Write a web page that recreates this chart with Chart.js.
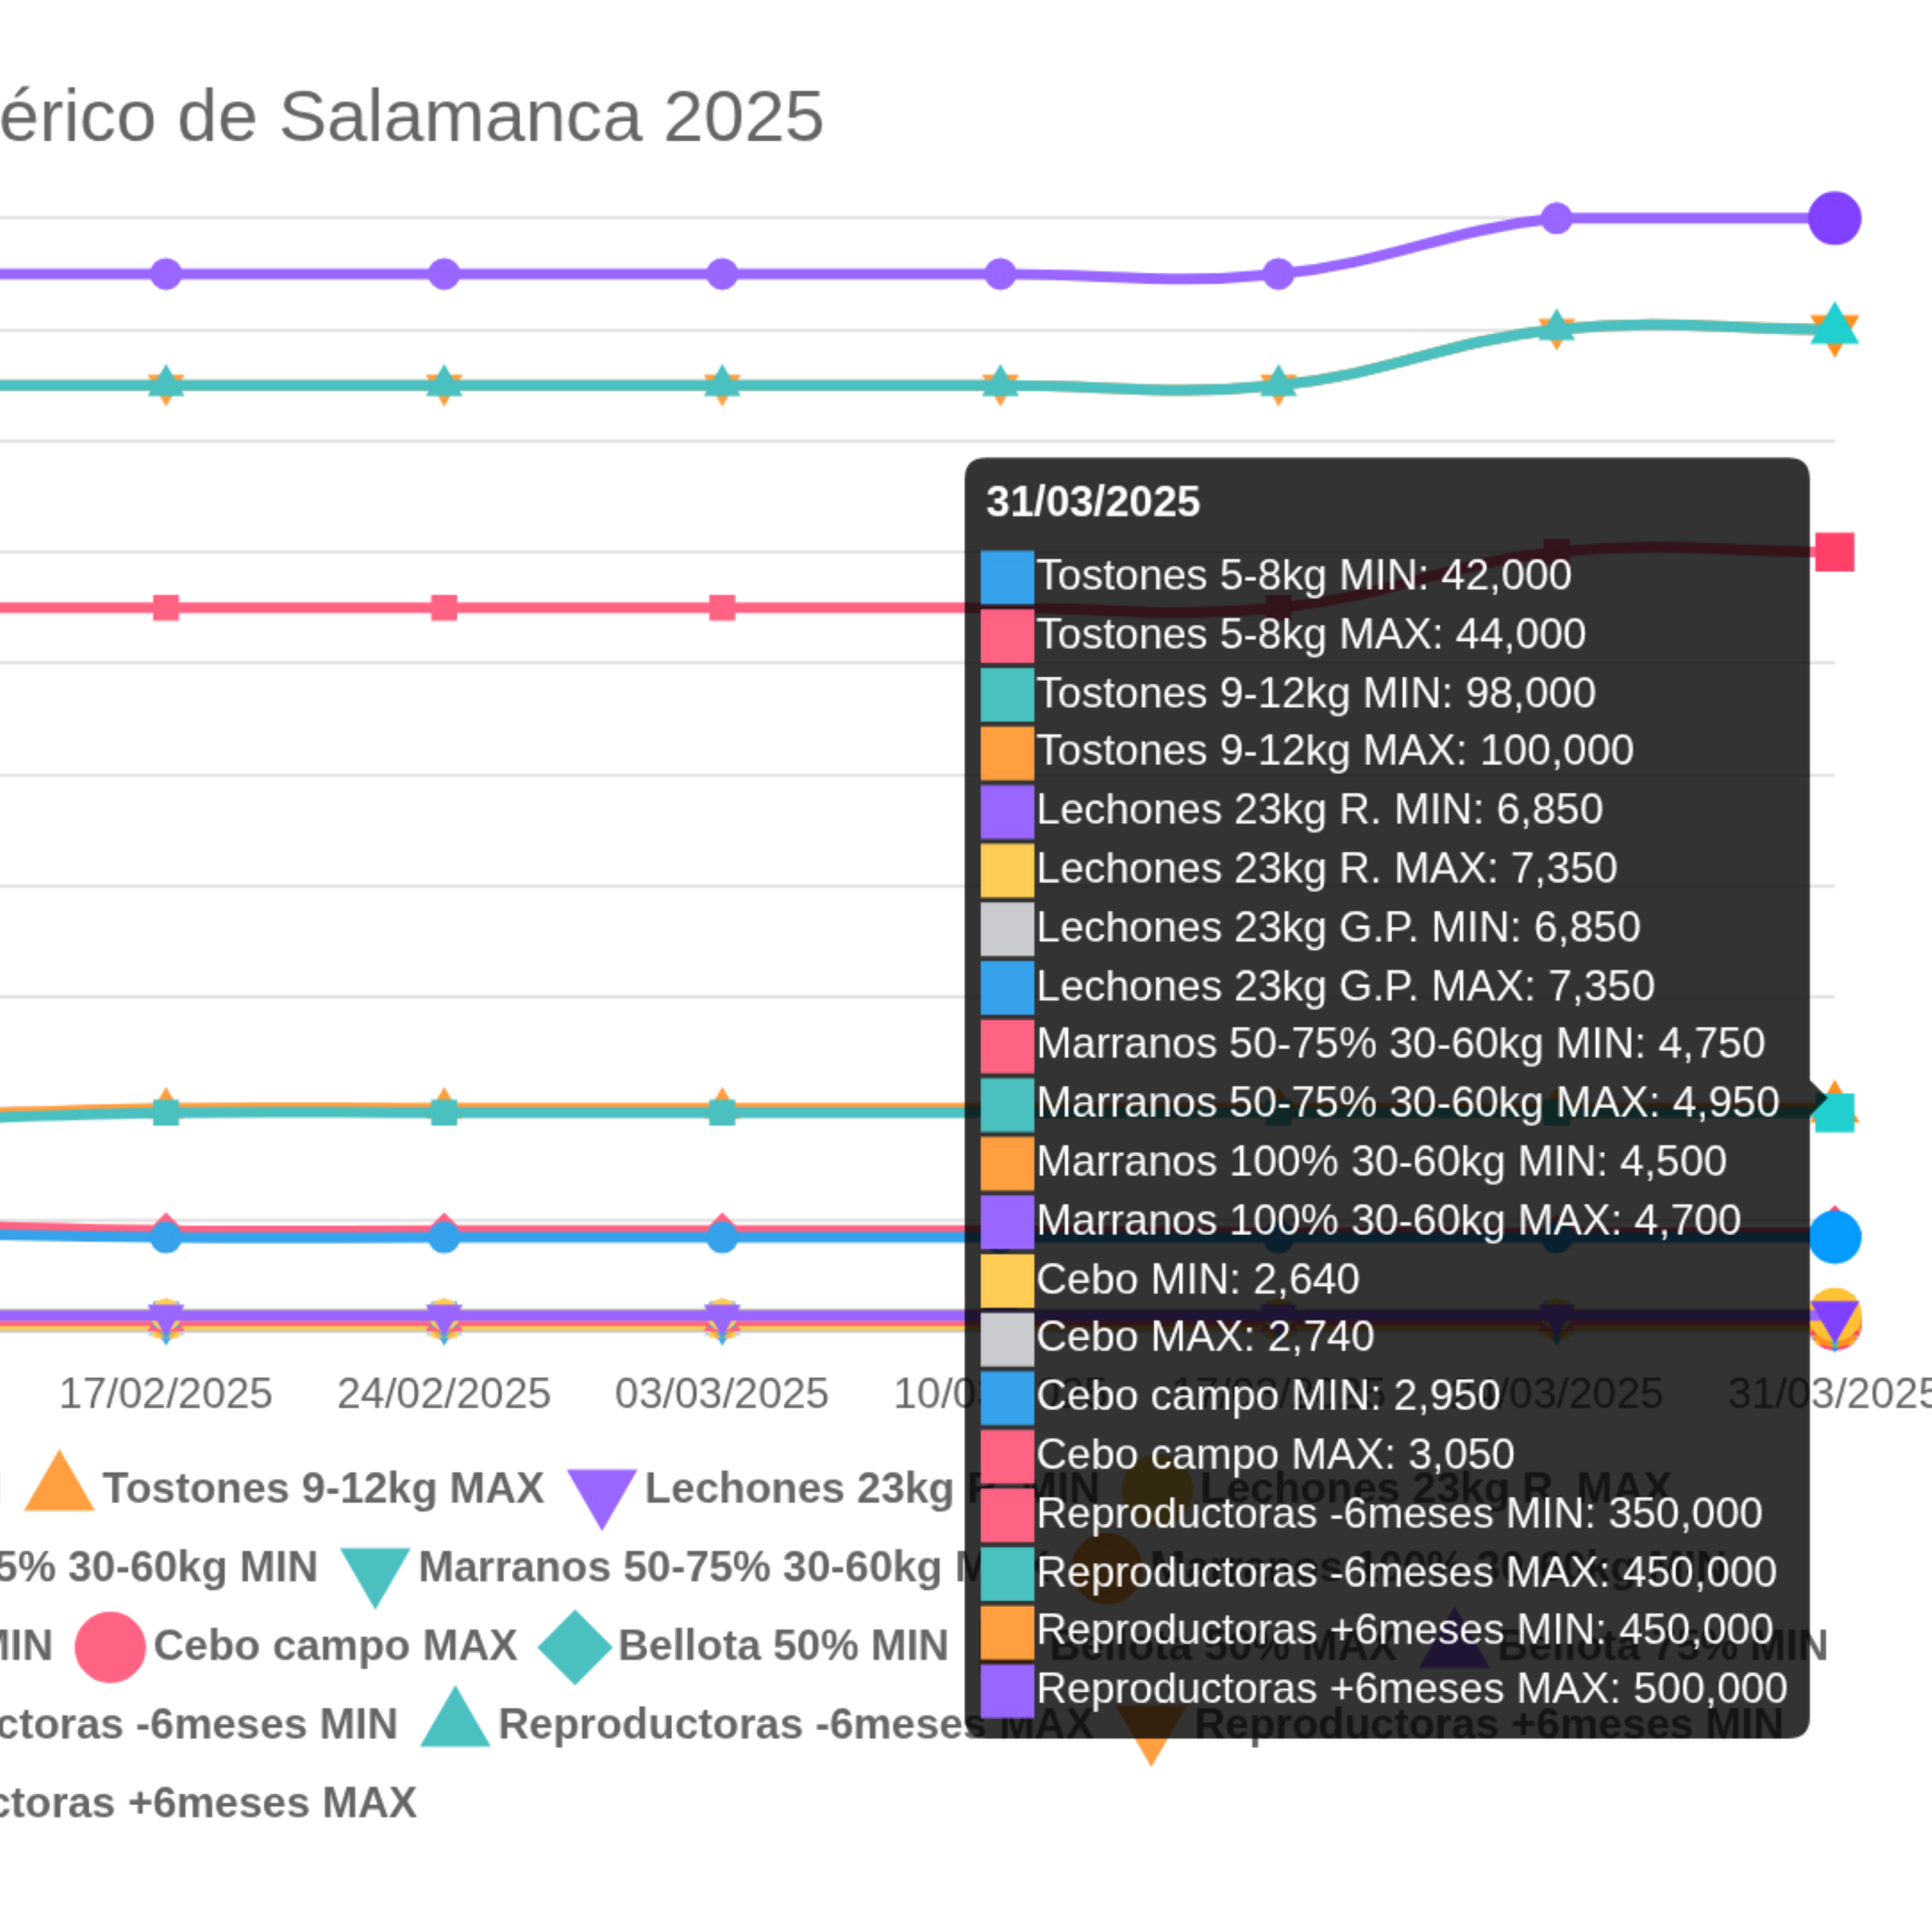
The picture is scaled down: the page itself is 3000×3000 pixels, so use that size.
<!DOCTYPE html>
<html>
<head>
<meta charset="utf-8">
<script src="https://cdn.jsdelivr.net/npm/chart.js"></script>
<style>
  html, body { margin: 0; padding: 0; background: #ffffff; width: 3000px; height: 3000px; overflow: hidden; }
  #wrap { position: absolute; left: -2784.5px; top: 55px; width: 1049px; height: 511px; transform: scale(5.55); transform-origin: 0 0; }
</style>
</head>
<body>
<div id="wrap"><canvas id="c" width="1049" height="511"></canvas></div>
<script>
// ---- categories ----
const labels = ['06/01/2025','13/01/2025','20/01/2025','27/01/2025','03/02/2025','10/02/2025',
                '17/02/2025','24/02/2025','03/03/2025','10/03/2025','17/03/2025','24/03/2025','31/03/2025'];

// ---- series values (one array per series) ----
const tostones58Min   = [null,null,null,null,null, 44000, 42000, 42000, 42000, 42000, 42000, 42000, 42000];
const tostones58Max   = [null,null,null,null,null, 48000, 45000, 45000, 45000, 45000, 44000, 44000, 44000];
const tostones912Min  = [null,null,null,null,null, 94000, 98000, 98000, 98000, 98000, 98000, 98000, 98000];
const tostones912Max  = [null,null,null,null,null, 96000,100000,100000,100000,100000,100000,100000,100000];
const lechonesRMin    = [null,null,null,null,null, 6850, 6850, 6850, 6850, 6850, 6850, 6850, 6850];
const lechonesRMax    = [null,null,null,null,null, 7350, 7350, 7350, 7350, 7350, 7350, 7350, 7350];
const lechonesGPMin   = [null,null,null,null,null, 6850, 6850, 6850, 6850, 6850, 6850, 6850, 6850];
const lechonesGPMax   = [null,null,null,null,null, 7350, 7350, 7350, 7350, 7350, 7350, 7350, 7350];
const marranos5075Min = [null,null,null,null,null, 4750, 4750, 4750, 4750, 4750, 4750, 4750, 4750];
const marranos5075Max = [null,null,null,null,null, 4950, 4950, 4950, 4950, 4950, 4950, 4950, 4950];
const marranos100Min  = [null,null,null,null,null, 4500, 4500, 4500, 4500, 4500, 4500, 4500, 4500];
const marranos100Max  = [null,null,null,null,null, 4700, 4700, 4700, 4700, 4700, 4700, 4700, 4700];
const ceboMin         = [null,null,null,null,null, 2640, 2640, 2640, 2640, 2640, 2640, 2640, 2640];
const ceboMax         = [null,null,null,null,null, 2740, 2740, 2740, 2740, 2740, 2740, 2740, 2740];
const ceboCampoMin    = [null,null,null,null,null, 2950, 2950, 2950, 2950, 2950, 2950, 2950, 2950];
const ceboCampoMax    = [null,null,null,null,null, 3050, 3050, 3050, 3050, 3050, 3050, 3050, 3050];
const bellota50Min    = [null,null,null,null,null,null,null,null,null,null,null,null,null];
const bellota50Max    = [null,null,null,null,null,null,null,null,null,null,null,null,null];
const bellota75Min    = [null,null,null,null,null,null,null,null,null,null,null,null,null];
const bellota75Max    = [null,null,null,null,null,null,null,null,null,null,null,null,null];
const bellota100Min   = [null,null,null,null,null,null,null,null,null,null,null,null,null];
const bellota100Max   = [null,null,null,null,null,null,null,null,null,null,null,null,null];
const reproMenos6Min  = [null,null,null,null,null, 325000,325000,325000,325000,325000,325000,350000,350000];
const reproMenos6Max  = [null,null,null,null,null, 425000,425000,425000,425000,425000,425000,450000,450000];
const reproMas6Min    = [null,null,null,null,null, 425000,425000,425000,425000,425000,425000,450000,450000];
const reproMas6Max    = [null,null,null,null,null, 475000,475000,475000,475000,475000,475000,500000,500000];

const seriesNames = [
  'Tostones 5-8kg MIN','Tostones 5-8kg MAX','Tostones 9-12kg MIN','Tostones 9-12kg MAX',
  'Lechones 23kg R. MIN','Lechones 23kg R. MAX','Lechones 23kg G.P. MIN','Lechones 23kg G.P. MAX',
  'Marranos 50-75% 30-60kg MIN','Marranos 50-75% 30-60kg MAX','Marranos 100% 30-60kg MIN','Marranos 100% 30-60kg MAX',
  'Cebo MIN','Cebo MAX','Cebo campo MIN','Cebo campo MAX',
  'Bellota 50% MIN','Bellota 50% MAX','Bellota 75% MIN','Bellota 75% MAX','Bellota 100% MIN','Bellota 100% MAX',
  'Reproductoras -6meses MIN','Reproductoras -6meses MAX','Reproductoras +6meses MIN','Reproductoras +6meses MAX'
];
const seriesValues = [
  tostones58Min, tostones58Max, tostones912Min, tostones912Max,
  lechonesRMin, lechonesRMax, lechonesGPMin, lechonesGPMax,
  marranos5075Min, marranos5075Max, marranos100Min, marranos100Max,
  ceboMin, ceboMax, ceboCampoMin, ceboCampoMax,
  bellota50Min, bellota50Max, bellota75Min, bellota75Max, bellota100Min, bellota100Max,
  reproMenos6Min, reproMenos6Max, reproMas6Min, reproMas6Max
];

// ---- styles ----
const palette = ['rgb(54, 162, 235)','rgb(255, 99, 132)','rgb(75, 192, 192)','rgb(255, 159, 64)',
                 'rgb(153, 102, 255)','rgb(255, 205, 86)','rgb(201, 203, 207)'];
const pointStyles = ['circle','rectRot','rect','triangle','triangle'];
const pointRotations = [0, 0, 0, 0, 180];

Chart.defaults.font.family = "'Liberation Sans', Arial, Helvetica, sans-serif";
Chart.defaults.color = '#666';

const datasets = seriesNames.map((name, i) => ({
  label: name,
  data: seriesValues[i],
  borderColor: palette[i % palette.length],
  backgroundColor: palette[i % palette.length],
  pointStyle: pointStyles[i % pointStyles.length],
  pointRotation: pointRotations[i % pointRotations.length],
  borderWidth: 3,
  pointRadius: 3,
  pointHoverRadius: 7,
  tension: 0.4
}));

const chart = new Chart(document.getElementById('c'), {
  type: 'line',
  data: { labels: labels, datasets: datasets },
  options: {
    responsive: false,
    devicePixelRatio: 2,
    animation: false,
    events: [],
    interaction: { mode: 'index', intersect: false },
    plugins: {
      title: {
        display: true,
        text: 'Precios del Cerdo Ibérico de Salamanca 2025',
        font: { size: 20.4, weight: 'normal' },
        padding: { top: 11.4, bottom: 15.3 }
      },
      legend: {
        position: 'bottom',
        labels: { usePointStyle: true, font: { weight: 'bold' } }
      },
      tooltip: { enabled: true }
    },
    scales: {
      x: { grid: { display: false }, ticks: { padding: 4, font: { lineHeight: 1.05 } } },
      y: { beginAtZero: true, title: { display: true, text: 'Precio (€)', padding: { top: 4, bottom: 5.4 } } }
    }
  }
});

// show the tooltip for the last date, as in the reference
const last = labels.length - 1;
const active = [];
chart.data.datasets.forEach((d, i) => { if (d.data[last] !== null) active.push({ datasetIndex: i, index: last }); });
chart.setActiveElements(active);
const p0 = chart.getDatasetMeta(0).data[last];
chart.tooltip.setActiveElements(active, { x: p0.x, y: p0.y });
chart.render();
</script>
</body>
</html>
